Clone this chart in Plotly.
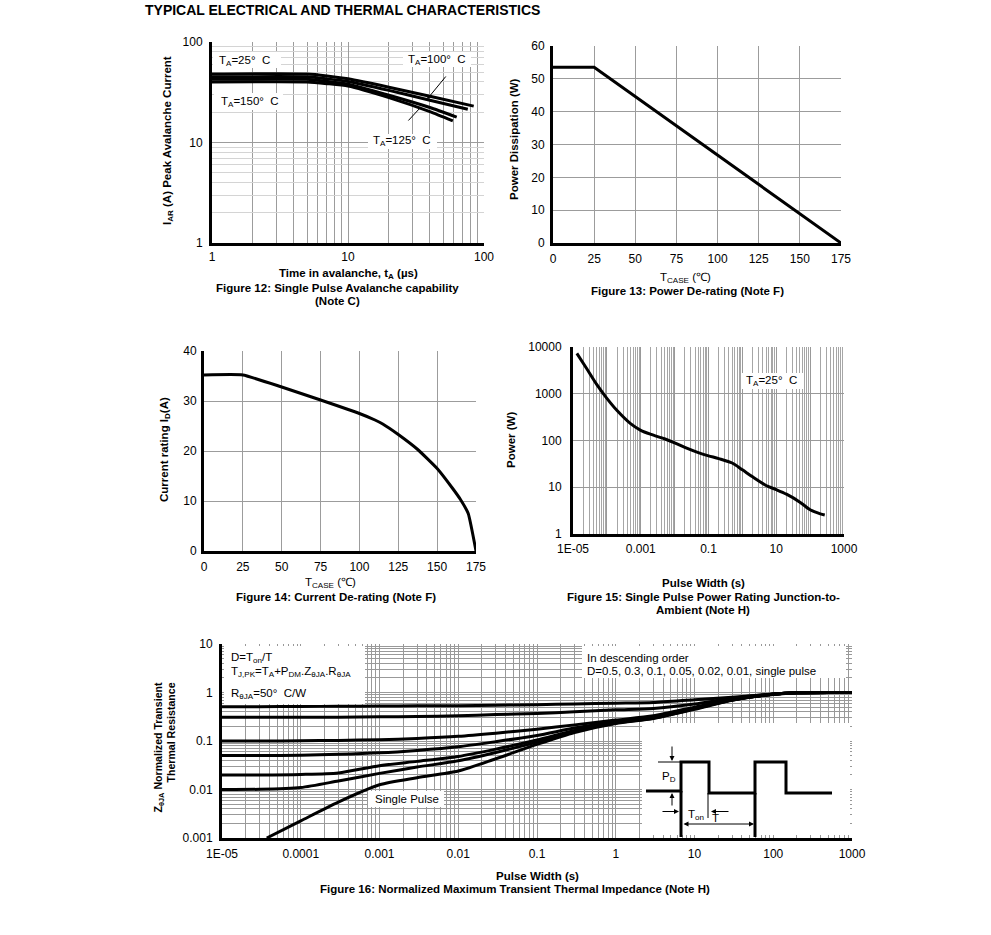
import plotly.graph_objects as go

# ---------------- data ----------------
# Figure 12: single pulse avalanche capability (log-log)
f12_x_25 = [1, 5, 7, 10, 20, 40, 84]
f12_y_25 = [48, 48, 46, 43, 35.5, 28.8, 23]
f12_x_100 = [1, 5, 7, 10, 20, 40, 76]
f12_y_100 = [45, 45, 43, 40.5, 33, 26.3, 21.4]
f12_x_125 = [1, 5, 7, 10, 20, 40, 63]
f12_y_125 = [42.5, 42.5, 40.5, 38, 29.5, 22.3, 17.9]
f12_x_150 = [1, 5, 7, 10, 20, 40, 59]
f12_y_150 = [40, 40, 38.5, 36.5, 28, 20.3, 16.4]
f12_ticks = [1, 10, 100]
f12_ticktext = ["1", "10", "100"]

# Figure 13: power de-rating
f13_t = [0, 25, 175]
f13_p = [53.5, 53.5, 0]

# Figure 14: current de-rating
f14_t = [0, 25, 50, 75, 100, 110, 115, 125, 137.5, 150, 160, 165, 170, 175]
f14_i = [35.2, 35.2, 32.8, 30.2, 27.5, 26.2, 25.4, 23.3, 20.3, 16.5, 12.5, 10.3, 7.5, 0]

# Figure 15: single pulse power rating
f15_x = [1.3e-5, 2.5e-5, 5e-5, 1e-4, 2e-4, 5e-4, 1e-3, 2e-3, 5e-3, 0.01, 0.02, 0.05,
         0.1, 0.2, 0.5, 1, 2, 5, 10, 20, 50, 100, 200, 270]
f15_p = [7300, 3500, 1580, 795, 436, 229, 165, 135, 109, 89, 71, 55,
         47, 41, 33, 23.6, 16.7, 10.9, 8.9, 7.1, 4.8, 3.3, 2.7, 2.55]
f15_xvals = [1e-5, 1e-4, 1e-3, 1e-2, 0.1, 1, 10, 100, 1000]
f15_xtext = ["1E-05", "", "0.001", "", "0.1", "", "10", "", "1000"]
f15_yvals = [1, 10, 100, 1000, 10000]
f15_ytext = ["1", "10", "100", "1000", "10000"]

# Figure 16: normalized transient thermal impedance
f16_x = [1e-5, 3e-5, 1e-4, 3e-4, 1e-3, 3e-3, 0.01, 0.03, 0.1, 0.3, 1, 3, 10, 30, 100, 200, 1000]
f16_d050 = [0.51, 0.51, 0.515, 0.52, 0.525, 0.53, 0.535, 0.545, 0.56, 0.58, 0.6, 0.62, 0.71, 0.8, 0.93, 0.99, 1.0]
f16_d030 = [0.31, 0.31, 0.31, 0.31, 0.315, 0.32, 0.33, 0.35, 0.37, 0.4, 0.44, 0.47, 0.58, 0.76, 0.93, 0.99, 1.0]
f16_d010 = [0.1, 0.1, 0.101, 0.103, 0.106, 0.113, 0.125, 0.145, 0.175, 0.215, 0.27, 0.33, 0.5, 0.72, 0.92, 0.99, 1.0]
f16_d005 = [0.05, 0.05, 0.051, 0.053, 0.057, 0.064, 0.076, 0.097, 0.13, 0.185, 0.25, 0.31, 0.48, 0.71, 0.92, 0.99, 1.0]
f16_d002 = [0.02, 0.02, 0.0205, 0.022, 0.031, 0.038, 0.048, 0.068, 0.105, 0.165, 0.24, 0.3, 0.47, 0.7, 0.92, 0.99, 1.0]
f16_d001 = [0.01, 0.0101, 0.011, 0.015, 0.0215, 0.029, 0.039, 0.058, 0.095, 0.158, 0.235, 0.295, 0.46, 0.7, 0.92, 0.99, 1.0]
f16_single_x = [3.7e-5, 1e-4, 3e-4, 1e-3, 3e-3, 0.01, 0.03, 0.1, 0.3, 1, 3, 10, 30, 100, 200, 1000]
f16_single = [0.001, 0.00226, 0.0055, 0.0125, 0.0175, 0.024, 0.043, 0.085, 0.15, 0.23, 0.29, 0.45, 0.69, 0.91, 0.99, 1.0]
f16_xvals = [1e-5, 1e-4, 1e-3, 1e-2, 0.1, 1, 10, 100, 1000]
f16_xtext = ["1E-05", "0.0001", "0.001", "0.01", "0.1", "1", "10", "100", "1000"]
f16_yvals = [0.001, 0.01, 0.1, 1, 10]
f16_ytext = ["0.001", "0.01", "0.1", "1", "10"]

# ---------------- layout helpers ----------------
W, H = 991, 935
OFF = 0  # body margin removed via post_script
FONT = "Arial, Liberation Sans, sans-serif"
GRID = "#9c9c9c"
GRID_DARK = "#999999"
GRID_LIGHT = "#d4d4d4"


def px(x):
    return (x - OFF) / W


def py(y):
    return 1 - (y - OFF) / H


def dom_x(a, b):
    return [px(a), px(b)]


def dom_y(top, bottom):
    return [py(bottom), py(top)]


def axis(domain, anchor, **kw):
    d = dict(domain=domain, anchor=anchor, showline=True, linecolor="black", linewidth=3,
             mirror=False, ticks="", tickfont=dict(family=FONT, size=12, color="black"),
             zeroline=False, showgrid=True, gridcolor=GRID, gridwidth=1.2, fixedrange=True,
             automargin=False)
    d.update(kw)
    return d


fig = go.Figure()

LINE = dict(color="black", width=3)


def add_line(x, y, xa, ya, spline=True, smooth=0.6):
    ln = dict(LINE)
    if spline:
        ln["shape"] = "spline"
        ln["smoothing"] = smooth
    fig.add_trace(go.Scatter(x=x, y=y, mode="lines", line=ln, xaxis=xa, yaxis=ya,
                             hoverinfo="skip", showlegend=False))


# Figure 12
for xs, ys in [(f12_x_25, f12_y_25), (f12_x_100, f12_y_100),
               (f12_x_125, f12_y_125), (f12_x_150, f12_y_150)]:
    add_line(xs, ys, "x", "y", smooth=0.5)
# Figure 13
add_line(f13_t, f13_p, "x2", "y2", spline=False)
# Figure 14
add_line(f14_t, f14_i, "x3", "y3", smooth=0.4)
# Figure 15
add_line(f15_x, f15_p, "x4", "y4", smooth=0.8)
# Figure 16
for ys in [f16_d050, f16_d030, f16_d010, f16_d005, f16_d002, f16_d001]:
    add_line(f16_x, ys, "x5", "y5", smooth=0.7)
add_line(f16_single_x, f16_single, "x5", "y5", smooth=0.7)

minor12 = dict(dtick="D1", showgrid=True, gridcolor=GRID, gridwidth=1.2, ticks="")
minor16 = dict(dtick="D1", showgrid=True, gridcolor=GRID_DARK, gridwidth=1.3, ticks="")

fig.update_layout(
    template="none",
    width=W, height=H, margin=dict(l=0, r=0, t=0, b=0, pad=0, autoexpand=False),
    paper_bgcolor="white", plot_bgcolor="white", showlegend=False,
    font=dict(family=FONT, size=12, color="black"),
    # Fig 12
    xaxis=axis(dom_x(212, 484), "y", type="log", range=[0, 2], tickvals=f12_ticks,
               ticktext=f12_ticktext, minor=minor12, ticklabelstandoff=1),
    yaxis=axis(dom_y(42, 243), "x", type="log", range=[0, 2], tickvals=f12_ticks,
               ticktext=f12_ticktext, ticklabelstandoff=4,
               minor=dict(dtick="D1", showgrid=True, gridcolor=GRID_LIGHT, gridwidth=1.2, ticks="")),
    # Fig 13
    xaxis2=axis(dom_x(553, 841), "y2", range=[0, 175], dtick=25, tick0=0, ticklabelstandoff=3),
    yaxis2=axis(dom_y(46, 243), "x2", range=[0, 60], dtick=10, tick0=0, ticklabelstandoff=3),
    # Fig 14
    xaxis3=axis(dom_x(204, 476), "y3", range=[0, 175], dtick=25, tick0=0, ticklabelstandoff=3),
    yaxis3=axis(dom_y(351, 551), "x3", range=[0, 40], dtick=10, tick0=0, ticklabelstandoff=2),
    # Fig 15
    xaxis4=axis(dom_x(573, 844), "y4", type="log", range=[-5, 3], tickvals=f15_xvals,
                ticktext=f15_xtext, gridcolor=GRID_DARK,
                minor=dict(dtick="D1", showgrid=True, gridcolor="#a6a6a6", gridwidth=1.1, ticks=""),
                ticklabelstandoff=2),
    yaxis4=axis(dom_y(347, 534), "x4", type="log", range=[0, 4], tickvals=f15_yvals,
                ticktext=f15_ytext, gridcolor=GRID_DARK, ticklabelstandoff=6),
    # Fig 16
    xaxis5=axis(dom_x(222, 852), "y5", type="log", range=[-5, 3], tickvals=f16_xvals,
                ticktext=f16_xtext, gridcolor=GRID_DARK, minor=minor16, ticklabelstandoff=3),
    yaxis5=axis(dom_y(644, 838), "x5", type="log", range=[-3, 1], tickvals=f16_yvals,
                ticktext=f16_ytext, gridcolor=GRID_DARK, minor=minor16, ticklabelstandoff=4),
)

annotations = []
shapes = []


def text(t, x, y, size=11.5, bold=False, xanchor="center", yanchor="middle", angle=0, align="center"):
    if bold:
        t = "<b>" + t + "</b>"
    annotations.append(dict(text=t, x=px(x), y=py(y), xref="paper", yref="paper",
                            xanchor=xanchor, yanchor=yanchor, showarrow=False, textangle=angle,
                            align=align, font=dict(family=FONT, size=size, color="black")))


def box(x0, y0, x1, y1):
    shapes.append(dict(type="rect", xref="paper", yref="paper", x0=px(x0), x1=px(x1),
                       y0=py(y1), y1=py(y0), fillcolor="white", line=dict(width=0), layer="above"))


def seg(x0, y0, x1, y1, w=1):
    shapes.append(dict(type="line", xref="paper", yref="paper", x0=px(x0), y0=py(y0),
                       x1=px(x1), y1=py(y1), line=dict(color="black", width=w), layer="above"))


def arrow(tx, ty, fx, fy, head=2, size=1, side="end", width=1):
    annotations.append(dict(text="", x=px(tx), y=py(ty), xref="paper", yref="paper",
                            ax=fx - tx, ay=fy - ty, axref="pixel", ayref="pixel",
                            showarrow=True, arrowhead=head, startarrowhead=head,
                            arrowsize=size, startarrowsize=size,
                            arrowwidth=width, arrowcolor="black", arrowside=side))


# Title
text("TYPICAL ELECTRICAL AND THERMAL CHARACTERISTICS", 143, 10, size=14, bold=True, xanchor="left")

# Fig 12 texts
box(213, 52, 281, 68)
text("T<sub>A</sub>=25°  C", 217, 61, xanchor="left")
box(214, 93, 283, 110)
text("T<sub>A</sub>=150°  C", 219, 102, xanchor="left")
box(403, 52, 471, 67)
text("T<sub>A</sub>=100°  C", 406, 60, xanchor="left")
box(368, 134, 437, 149)
text("T<sub>A</sub>=125°  C", 371, 141, xanchor="left")
arrow(428.5, 97.5, 447, 75, head=6, size=0.6)
arrow(420, 108, 407, 122, head=6, size=0.6)
text("I<sub>AR</sub> (A) Peak Avalanche Current", 168, 141, bold=True, angle=-90)
text("Time in avalanche, t<sub>A</sub> (µs)", 348, 274, bold=True)
text("Figure 12: Single Pulse Avalanche capability", 337, 288, bold=True)
text("(Note C)", 337, 301, bold=True)

# Fig 13 texts
text("Power Dissipation (W)", 514, 139, bold=True, angle=-90)
text("T<sub>CASE</sub> (℃)", 685, 278)
text("Figure 13: Power De-rating (Note F)", 687, 291, bold=True)

# Fig 14 texts
text("Current rating I<sub>D</sub>(A)", 165, 450, bold=True, angle=-90)
text("T<sub>CASE</sub> (℃)", 330, 583)
text("Figure 14: Current De-rating (Note F)", 336, 597, bold=True)

# Fig 15 texts
box(741, 373, 804, 389)
text("T<sub>A</sub>=25°  C", 744, 381, xanchor="left")
text("Power (W)", 511, 440, bold=True, angle=-90)
text("Pulse Width (s)", 703, 583, bold=True)
text("Figure 15: Single Pulse Power Rating Junction-to-", 703, 597, bold=True)
text("Ambient (Note H)", 703, 610, bold=True)

# Fig 16 texts
box(224, 646, 365, 704)
text("D=T<sub>on</sub>/T", 229, 658, xanchor="left")
text("T<sub>J,PK</sub>=T<sub>A</sub>+P<sub>DM</sub>.Z<sub>θJA</sub>.R<sub>θJA</sub>", 229, 672, xanchor="left")
text("R<sub>θJA</sub>=50°  C/W", 229, 694, xanchor="left")
box(582, 646, 846, 678)
text("In descending order", 585, 658, xanchor="left")
text("D=0.5, 0.3, 0.1, 0.05, 0.02, 0.01, single pulse", 585, 671, xanchor="left")
box(368, 791, 444, 807)
text("Single Pulse", 373, 799, xanchor="left")
text("Z<sub>θJA</sub> Normalized Transient<br>Thermal Resistance", 164, 680, size=10.6, bold=True,
     angle=-90, yanchor="top", align="right")
text("Pulse Width (s)", 537, 876, bold=True)
text("Figure 16: Normalized Maximum Transient Thermal Impedance (Note H)", 515, 889, bold=True)

# Inset pulse diagram in Fig 16
box(642, 723, 850, 835)
pulse = [(646, 791), (681, 791), (681, 762), (709, 762), (709, 793), (755, 793),
         (755, 762), (786, 762), (786, 793), (832, 793)]
path = "M " + " L ".join(f"{px(a):.5f},{py(b):.5f}" for a, b in pulse)
shapes.append(dict(type="path", xref="paper", yref="paper", path=path,
                   line=dict(color="black", width=3), layer="above"))
seg(681, 791, 681, 837, w=3)
seg(755, 793, 755, 837, w=3)
seg(658, 762, 681, 762, w=1)
seg(708, 793, 708, 818, w=1)
arrow(672, 761, 672, 745)
arrow(672, 793, 672, 807)
text("P<sub>D</sub>", 669, 777)
arrow(679, 811.5, 661, 811.5)
arrow(711, 811.5, 730, 811.5)
text("T<sub>on</sub>", 696, 815)
arrow(754, 824, 682, 824, side="end+start")
text("T", 715, 818)

fig.update_layout(annotations=annotations, shapes=shapes)
fig.write_html("out.html", config={"displayModeBar": False},
               post_script="document.body.style.margin='0px';document.body.style.padding='0px';")
